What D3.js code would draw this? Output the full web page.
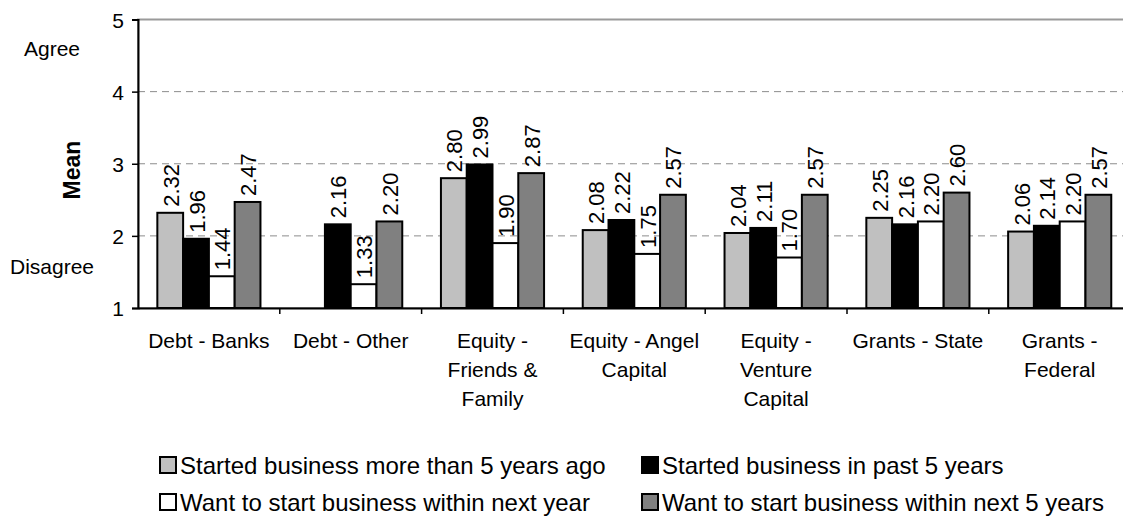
<!DOCTYPE html>
<html>
<head>
<meta charset="utf-8">
<script src="https://cdn.jsdelivr.net/npm/d3@7"></script>
<style>
  html, body { margin: 0; padding: 0; background: #fff; }
  svg text { font-family: "Liberation Sans", Arial, sans-serif; fill: #000; }
</style>
</head>
<body>
<svg id="chart" width="1123" height="519"></svg>
<script>
// Categories (with their wrapped tick label lines)
const categories = ['Debt - Banks', 'Debt - Other', 'Equity - Friends & Family',
  'Equity - Angel Capital', 'Equity - Venture Capital', 'Grants - State', 'Grants - Federal'];
const categoryLines = [
  ['Debt - Banks'],
  ['Debt - Other'],
  ['Equity -', 'Friends &', 'Family'],
  ['Equity - Angel', 'Capital'],
  ['Equity -', 'Venture', 'Capital'],
  ['Grants - State'],
  ['Grants -', 'Federal']
];

// Series
const seriesNames = ['Started business more than 5 years ago', 'Started business in past 5 years',
  'Want to start business within next year', 'Want to start business within next 5 years'];
const seriesColors = ['#c0c0c0', '#000000', '#ffffff', '#808080'];

const moreThan5Years = [2.32, null, 2.80, 2.08, 2.04, 2.25, 2.06];
const past5Years     = [1.96, 2.16, 2.99, 2.22, 2.11, 2.16, 2.14];
const nextYear       = [1.44, 1.33, 1.90, 1.75, 1.70, 2.20, 2.20];
const next5Years     = [2.47, 2.20, 2.87, 2.57, 2.57, 2.60, 2.57];
const seriesValues = [moreThan5Years, past5Years, nextYear, next5Years];

const yTicks = [1, 2, 3, 4, 5];

const svg = d3.select('#chart');

let margin = {left: 138, top: 19.5},
    plotW = 7 * 141.8,
    plotH = 288.5;

var x = d3.scaleBand()
    .domain(categories)
    .range([margin.left, margin.left + plotW])
    .paddingInner(0).paddingOuter(0);

var x1 = d3.scaleBand()
    .domain(d3.range(seriesNames.length))
    .range([0, x.bandwidth()])
    .paddingInner(0).paddingOuter(0.75);

var y = d3.scaleLinear()
    .domain([1, 5])
    .range([margin.top + plotH, margin.top]);

// plot area border (gray)
svg.append('rect')
    .attr('x', margin.left).attr('y', y(5))
    .attr('width', plotW).attr('height', y(1) - y(5))
    .attr('fill', 'none').attr('stroke', '#9a9a9a').attr('stroke-width', 2);

// dashed gridlines
svg.append('g')
    .selectAll('line')
    .data(yTicks.filter(d => d > 1 && d < 5))
    .enter().append('line')
    .attr('x1', margin.left).attr('x2', margin.left + plotW)
    .attr('y1', d => y(d)).attr('y2', d => y(d))
    .attr('stroke', '#8c8c8c').attr('stroke-width', 1)
    .attr('stroke-dasharray', '7,5');

// bars
const groups = svg.append('g')
    .selectAll('g')
    .data(categories)
    .enter().append('g')
    .attr('transform', d => 'translate(' + x(d) + ',0)');

const cells = groups.selectAll('g')
    .data((c, ci) => seriesValues.map((vals, si) => ({s: si, v: vals[ci]})).filter(d => d.v !== null))
    .enter().append('g');

cells.append('rect')
    .attr('x', d => x1(d.s))
    .attr('y', d => y(d.v))
    .attr('width', x1.bandwidth())
    .attr('height', d => y(1) - y(d.v))
    .attr('fill', d => seriesColors[d.s])
    .attr('stroke', '#000').attr('stroke-width', 2);

cells.append('text')
    .attr('transform', d => 'translate(' + (x1(d.s) + x1.bandwidth() / 2 + 8.5) + ',' + (y(d.v) - 6) + ')rotate(-90)')
    .style('font-size', '22px')
    .text(d => d.v.toFixed(2));

// y axis
const yAxis = svg.append('g')
    .attr('transform', 'translate(' + margin.left + ',0)')
    .call(d3.axisLeft(y).tickValues(yTicks).tickFormat(d3.format('d')).tickSize(6).tickPadding(8));
yAxis.select('.domain').attr('stroke', '#000').attr('stroke-width', 2);
yAxis.selectAll('.tick line').attr('stroke', '#000').attr('stroke-width', 1.5);
yAxis.selectAll('.tick text')
    .style('font-family', '"Liberation Sans", Arial, sans-serif')
    .style('font-size', '21px')
    .attr('dy', '0.36em');

// x axis
const xAxis = svg.append('g')
    .attr('transform', 'translate(0,' + y(1) + ')')
    .call(d3.axisBottom(x).tickSize(0).tickFormat(''));
xAxis.select('.domain').attr('stroke', '#000').attr('stroke-width', 2);

svg.append('g')
    .selectAll('line')
    .data(categories.slice(1))
    .enter().append('line')
    .attr('x1', d => x(d)).attr('x2', d => x(d))
    .attr('y1', y(1)).attr('y2', y(1) + 6)
    .attr('stroke', '#000').attr('stroke-width', 1.5);

const catLabels = svg.append('g')
    .selectAll('text')
    .data(categories)
    .enter().append('text')
    .attr('text-anchor', 'middle')
    .attr('x', d => x(d) + x.bandwidth() / 2)
    .attr('y', 348)
    .style('font-size', '21px');

catLabels.selectAll('tspan')
    .data((d, i) => categoryLines[i])
    .enter().append('tspan')
    .attr('x', function() { return this.parentNode.getAttribute('x'); })
    .attr('dy', (d, i) => i === 0 ? 0 : 29)
    .text(d => d);

// y axis side labels
svg.append('text').attr('x', 52).attr('y', 56).attr('text-anchor', 'middle')
    .style('font-size', '21px').text('Agree');
svg.append('text').attr('x', 52).attr('y', 274).attr('text-anchor', 'middle')
    .style('font-size', '21px').text('Disagree');
svg.append('text')
    .attr('transform', 'translate(80,170)rotate(-90)')
    .attr('text-anchor', 'middle')
    .style('font-size', '23px').style('font-weight', 'bold')
    .text('Mean');

// legend
const legendPos = [[159, 465], [641, 465], [159, 502], [641, 502]];
const legend = svg.append('g')
    .selectAll('g')
    .data(seriesNames)
    .enter().append('g')
    .attr('transform', (d, i) => 'translate(' + legendPos[i][0] + ',' + legendPos[i][1] + ')');

legend.append('rect')
    .attr('x', 1).attr('y', -8)
    .attr('width', 16).attr('height', 16)
    .attr('fill', (d, i) => seriesColors[i])
    .attr('stroke', '#000').attr('stroke-width', 2);

legend.append('text')
    .attr('x', 21).attr('y', 0).attr('dy', '0.36em')
    .style('font-size', '24px')
    .text(d => d);
</script>
</body>
</html>
